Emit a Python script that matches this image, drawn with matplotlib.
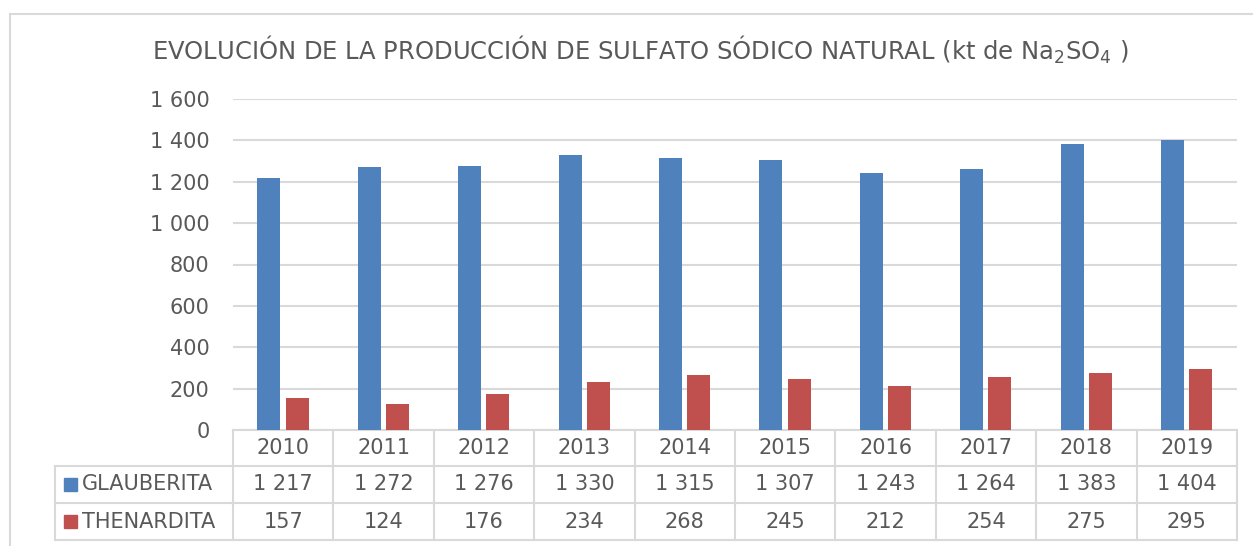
import matplotlib.pyplot as plt
from matplotlib.patches import Rectangle
from matplotlib.lines import Line2D

years = ['2010', '2011', '2012', '2013', '2014', '2015', '2016', '2017', '2018', '2019']
glauberita = [1217, 1272, 1276, 1330, 1315, 1307, 1243, 1264, 1383, 1404]
thenardita = [157, 124, 176, 234, 268, 245, 212, 254, 275, 295]
series_names = ['GLAUBERITA', 'THENARDITA']
yticks = [0, 200, 400, 600, 800, 1000, 1200, 1400, 1600]

blue = '#4f81bd'
red = '#c0504d'
txt = '#595959'
grid = '#d9d9d9'

plt.rcParams['font.family'] = ['DejaVu Sans']
plt.rcParams['mathtext.default'] = 'regular'

W, H = 1253, 546
fig = plt.figure(figsize=(W / 100, H / 100), dpi=100)

# outer chart border
fig.patches.append(Rectangle((10 / W, -0.05), 1.2, (H - 14) / H + 0.05, transform=fig.transFigure,
                             fill=False, edgecolor=grid, lw=1.5))

x0, x1, ytop, ybot = 233, 1237, 99, 430
ax = fig.add_axes([x0 / W, (H - ybot) / H, (x1 - x0) / W, (ybot - ytop) / H])
ax.set_xlim(-0.5, 9.5)
ax.set_ylim(0, 1600)

x = list(range(len(years)))
bw = 0.23
ax.bar([i - 0.142 for i in x], glauberita, bw, color=blue, zorder=3)
ax.bar([i + 0.138 for i in x], thenardita, bw, color=red, zorder=3)

ax.set_yticks(yticks)
ax.set_yticklabels([f'{v:,}'.replace(',', ' ') for v in yticks])
ax.tick_params(axis='y', length=0, pad=17, labelsize=15, labelcolor=txt)
ax.set_xticks([])
ax.yaxis.grid(True, color=grid, lw=1.5, zorder=0)
for s in ax.spines.values():
    s.set_visible(False)

fig.text(640 / W, (H - 50) / H, 'EVOLUCIÓN DE LA PRODUCCIÓN DE SULFATO SÓDICO NATURAL (kt de Na$_2$SO$_4$ )',
         ha='center', va='center', fontsize=17.5, color=txt)

# data table under the axis
tr = ax.get_xaxis_transform()
px = (ybot - ytop)  # pixels per axes unit
r1 = -36 / px
r2 = -73 / px
r3 = -110 / px
colw = (x1 - x0) / 10
left = -0.5 + (55 - x0) / colw

def line(xs, ys):
    ax.add_line(Line2D(xs, ys, transform=tr, color=grid, lw=1.5, clip_on=False))

line([-0.5, 9.5], [0, 0])
for yy in (r1, r2, r3):
    line([left, 9.5], [yy, yy])
for i in range(11):
    line([-0.5 + i, -0.5 + i], [0, r3])
line([left, left], [r1, r3])

for i, yr in enumerate(years):
    ax.text(i, r1 / 2, yr, transform=tr, ha='center', va='center', fontsize=15, color=txt)
    ax.text(i, (r1 + r2) / 2, f'{glauberita[i]:,}'.replace(',', ' '), transform=tr,
            ha='center', va='center', fontsize=15, color=txt)
    ax.text(i, (r2 + r3) / 2, f'{thenardita[i]:,}'.replace(',', ' '), transform=tr,
            ha='center', va='center', fontsize=15, color=txt)

# legend keys inside the table
for (ya, yb), name, col in zip([(r1, r2), (r2, r3)], series_names, [blue, red]):
    ym = (ya + yb) / 2
    ax.add_patch(Rectangle((left + 9 / colw, ym - 6.5 / px), 13 / colw, 13 / px, transform=tr,
                           color=col, clip_on=False))
    ax.text(left + 27 / colw, ym, name, transform=tr, ha='left', va='center',
            fontsize=15, color=txt)

fig.savefig('out.png', dpi=100)
